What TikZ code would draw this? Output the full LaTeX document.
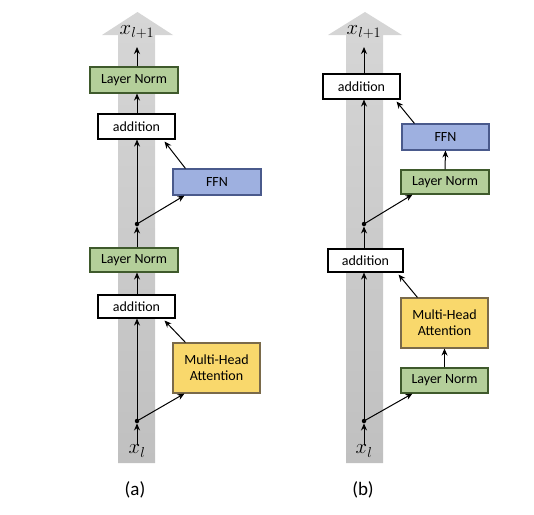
\documentclass[tikz,border=0pt]{standalone}
\usepackage{fontspec}
\setmainfont{Carlito}
\usetikzlibrary{arrows.meta}
\definecolor{bandgray}{HTML}{C0C0C0}
\definecolor{bandtop}{HTML}{D6D6D6}
\definecolor{lnfill}{HTML}{B4CF9A}
\definecolor{lndraw}{HTML}{3F5A2C}
\definecolor{ffnfill}{HTML}{9EB0E0}
\definecolor{ffndraw}{HTML}{4A5A8C}
\definecolor{mhafill}{HTML}{F9D86C}
\definecolor{mhadraw}{HTML}{7A6A4A}
\tikzset{
  box/.style={draw, line width=1.1pt, inner sep=0pt, align=center, font=\fontsize{14}{16}\selectfont},
  lnbox/.style={box, fill=lnfill, draw=lndraw},
  ffnbox/.style={box, fill=ffnfill, draw=ffndraw},
  mhabox/.style={box, fill=mhafill, draw=mhadraw},
  addbox/.style={box, fill=white, draw=black},
  mathlbl/.style={inner sep=0pt, font=\fontsize{21}{24}\selectfont},
  caplbl/.style={inner sep=0pt, font=\fontsize{19}{22}\selectfont},
  junc/.style={circle, fill=black, inner sep=0pt, minimum size=4.5pt},
  arr/.style={line width=1pt, -{Stealth[length=7pt,width=6pt]}},
}
\begin{document}
\begin{tikzpicture}[x=1pt,y=-1pt]
\useasboundingbox (0,0) rectangle (534,514);
% gray bands
\shade[top color=bandtop, bottom color=bandgray] (118,463) -- (118,35) -- (102,35) -- (137.5,12) -- (173,35) -- (155,35) -- (155,463) -- cycle;
\shade[top color=bandtop, bottom color=bandgray] (346,463) -- (346,35) -- (328,35) -- (365,12) -- (402,35) -- (383,35) -- (383,463) -- cycle;

% ---------- (a) ----------
\node[mathlbl] (xtopa) at (137,32) {$x_{l+1}$};
\node[lnbox, minimum width=88pt, minimum height=26pt] (ln1a) at (134,80) {Layer Norm};
\node[addbox, minimum width=77pt, minimum height=25pt] (add1a) at (136.5,126.5) {addition};
\node[ffnbox, minimum width=88pt, minimum height=26pt] (ffna) at (217,182) {FFN};
\node[junc] (ja1) at (137,224) {};
\node[lnbox, minimum width=88pt, minimum height=24pt] (ln2a) at (134,260) {Layer Norm};
\node[addbox, minimum width=77pt, minimum height=23pt] (add2a) at (136.5,306.5) {addition};
\node[mhabox, minimum width=87pt, minimum height=50pt] (mhaa) at (216.5,368) {Multi-Head\\Attention};
\node[junc] (ja2) at (137,421) {};
\node[mathlbl] (xbota) at (137,451) {$x_l$};
\node[caplbl] (capa) at (135,490) {(a)};

\draw[arr] (xbota.north -| ja2) -- (ja2.south);
\draw[arr] (ja2.center) -- (ja2 |- add2a.south);
\draw[arr] (ja2.center) -- ([xshift=12pt]mhaa.south west);
\draw[arr] ([xshift=13pt]mhaa.north west) -- ([xshift=-11pt,yshift=-2pt]add2a.south east);
\draw[arr] (ja1 |- add2a.north) -- (ja1 |- ln2a.south);
\draw[arr] (ja1 |- ln2a.north) -- (ja1.south);
\draw[arr] (ja1.center) -- (ja1 |- add1a.south);
\draw[arr] (ja1.center) -- ([xshift=12pt]ffna.south west);
\draw[arr] ([xshift=13pt]ffna.north west) -- ([xshift=-11pt,yshift=-2pt]add1a.south east);
\draw[arr] (ja1 |- add1a.north) -- (ja1 |- ln1a.south);
\draw[arr] (ja1 |- ln1a.north) -- (137,47);

% ---------- (b) ----------
\node[mathlbl] (xtopb) at (364,32) {$x_{l+1}$};
\node[addbox, minimum width=77pt, minimum height=25pt] (add1b) at (361.5,86.5) {addition};
\node[ffnbox, minimum width=87pt, minimum height=26pt] (ffnb) at (445.5,137) {FFN};
\node[lnbox, minimum width=88pt, minimum height=24pt] (ln1b) at (445,182) {Layer Norm};
\node[junc] (jb1) at (364,224) {};
\node[addbox, minimum width=75pt, minimum height=23pt] (add2b) at (365.5,260.5) {addition};
\node[mhabox, minimum width=87pt, minimum height=50pt] (mhab) at (444.5,323) {Multi-Head\\Attention};
\node[lnbox, minimum width=87pt, minimum height=25pt] (ln2b) at (444.5,380.5) {Layer Norm};
\node[junc] (jb2) at (364,421) {};
\node[mathlbl] (xbotb) at (364,451) {$x_l$};
\node[caplbl] (capb) at (363,490) {(b)};

\draw[arr] (xbotb.north -| jb2) -- (jb2.south);
\draw[arr] (jb2.center) -- (jb2 |- add2b.south);
\draw[arr] (jb2.center) -- ([xshift=12pt]ln2b.south west);
\draw[arr] (ln2b.north) -- (mhab.south);
\draw[arr] ([xshift=17pt]mhab.north west) -- ([xshift=-5pt,yshift=-2pt]add2b.south east);
\draw[arr] (jb1 |- add2b.north) -- (jb1.south);
\draw[arr] (jb1.center) -- (jb1 |- add1b.south);
\draw[arr] (jb1.center) -- ([xshift=12pt]ln1b.south west);
\draw[arr] (ln1b.north) -- (ffnb.south);
\draw[arr] ([xshift=13pt]ffnb.north west) -- ([xshift=-4pt,yshift=-2pt]add1b.south east);
\draw[arr] (jb1 |- add1b.north) -- (364,47);
\end{tikzpicture}
\end{document}
